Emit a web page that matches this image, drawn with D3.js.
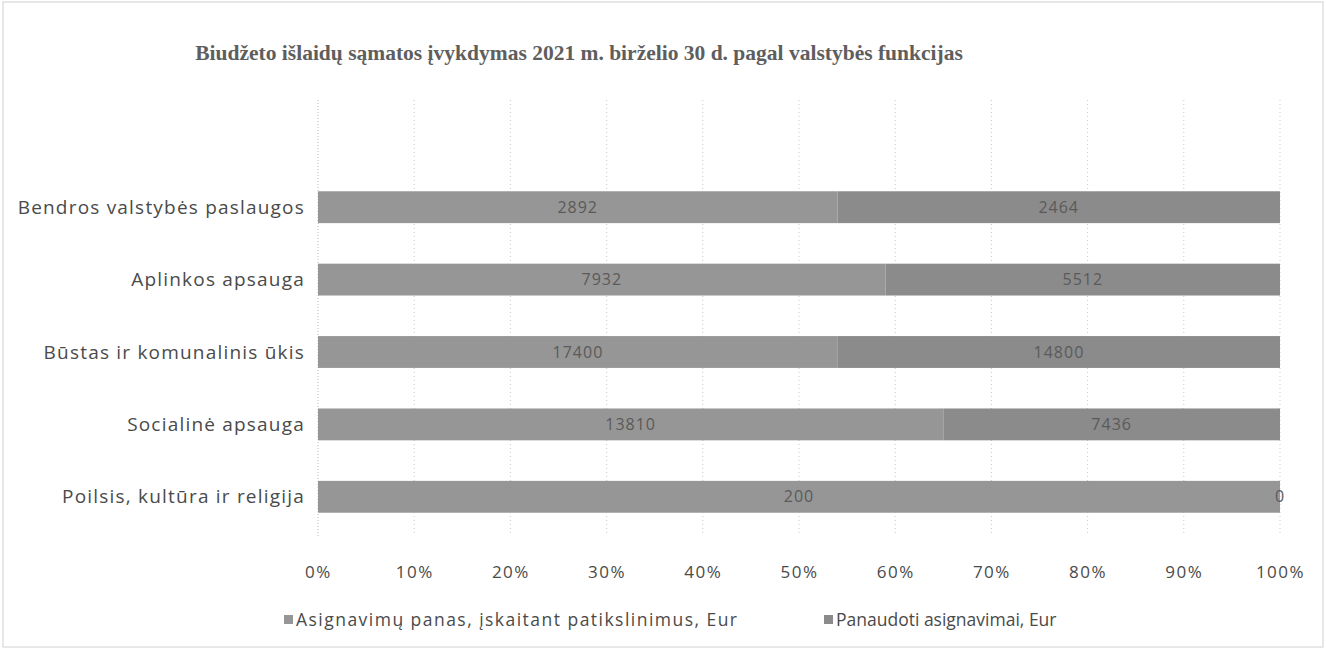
<!DOCTYPE html>
<html>
<head>
  <meta charset="UTF-8">
  <title>Biudžeto išlaidų sąmatos įvykdymas</title>
  <script src="https://d3js.org/d3.v7.min.js"></script>
  <style>
    body { margin: 0; background: #fff; }
    text { font-family: "Open Sans", "DejaVu Sans", sans-serif; fill: #4a4a4a; }
    .title { font-family: "Liberation Serif", "DejaVu Serif", serif; font-weight: bold; fill: #5e5e5e; }
    .grid line { stroke: #c8c8c8; stroke-dasharray: 1,3; }
  </style>
</head>
<body>
<script>
// categories (top to bottom)
var categories = [
  "Bendros valstybės paslaugos",
  "Aplinkos apsauga",
  "Būstas ir komunalinis ūkis",
  "Socialinė apsauga",
  "Poilsis, kultūra ir religija"
];
// series values, Eur
var planValues = [2892, 7932, 17400, 13810, 200];
var usedValues = [2464, 5512, 14800, 7436, 0];
var seriesNames = ["Asignavimų panas, įskaitant patikslinimus, Eur", "Panaudoti asignavimai, Eur"];
var tickLabels = [0, 0.1, 0.2, 0.3, 0.4, 0.5, 0.6, 0.7, 0.8, 0.9, 1];

var width = 1326, height = 651;
var svg = d3.select("body").append("svg")
  .attr("width", width).attr("height", height);

// faint page border from the scan
svg.append("rect").attr("x", 3).attr("y", 2).attr("width", width - 6).attr("height", height - 6)
  .attr("fill", "none").attr("stroke", "#d0d0d0");

svg.append("text").attr("class", "title")
  .attr("x", 579).attr("y", 60).attr("text-anchor", "middle")
  .style("font-size", "21.5px")
  .text("Biudžeto išlaidų sąmatos įvykdymas 2021 m. birželio 30 d. pagal valstybės funkcijas");

var x = d3.scaleLinear().domain([0, 1]).range([318, 1280]);
var y = d3.scaleBand().domain(categories).range([171, 533]).paddingInner(0.56).paddingOuter(0.28);

// gridlines
svg.append("g").attr("class", "grid")
  .selectAll("line").data(tickLabels.slice(1)).enter().append("line")
  .attr("x1", function(d) { return x(d); }).attr("x2", function(d) { return x(d); })
  .attr("y1", 100).attr("y2", 533);

svg.append("line").attr("x1", x(0)).attr("x2", x(0)).attr("y1", 100).attr("y2", 536)
  .attr("stroke", "#bbb").attr("stroke-dasharray", "1,2");

// stacked data (100%)
var rows = categories.map(function(c, i) {
  var total = planValues[i] + usedValues[i];
  return { cat: c, plan: planValues[i], used: usedValues[i], p: planValues[i] / total };
});

var colors = ["#969696", "#8b8b8b"];
var g = svg.append("g");

rows.forEach(function(r) {
  var segs = [
    { x0: 0, x1: r.p, v: r.plan, c: colors[0] },
    { x0: r.p, x1: 1, v: r.used, c: colors[1] }
  ];
  segs.forEach(function(s) {
    g.append("rect")
      .attr("x", x(s.x0)).attr("y", y(r.cat))
      .attr("width", x(s.x1) - x(s.x0)).attr("height", y.bandwidth())
      .attr("fill", s.c);
    g.append("text")
      .attr("x", (x(s.x0) + x(s.x1)) / 2).attr("y", y(r.cat) + y.bandwidth() / 2)
      .attr("dy", "0.35em").attr("text-anchor", "middle")
      .style("font-size", "16px").style("letter-spacing", "1px").style("fill", "#5a5a5a")
      .text(s.v);
  });
});

// category labels
svg.append("g").selectAll("text").data(categories).enter().append("text")
  .attr("x", 305).attr("y", function(d) { return y(d) + y.bandwidth() / 2; })
  .attr("dy", "0.35em").attr("text-anchor", "end")
  .style("font-size", "19px").style("letter-spacing", "1.2px")
  .text(function(d) { return d; });

// x axis tick labels
var xAxis = d3.axisBottom(x).tickValues(tickLabels).tickFormat(d3.format(".0%")).tickSize(0);
var ax = svg.append("g").attr("transform", "translate(0,563)").call(xAxis);
ax.select(".domain").remove();
ax.selectAll("text").style("font-size", "17px").style("letter-spacing", "1.5px").style("fill", "#4a4a4a")
  .style("font-family", "'Open Sans', sans-serif");

// legend
var legendX = [284, 824];
seriesNames.forEach(function(n, i) {
  svg.append("rect").attr("x", legendX[i]).attr("y", 615).attr("width", 9).attr("height", 9)
    .attr("fill", colors[i]);
  var t = svg.append("text").attr("x", legendX[i] + 12).attr("y", 620).attr("dy", "0.35em")
    .style("font-size", "17.5px")
    .text(n);
  if (i === 0) t.attr("textLength", 441).attr("lengthAdjust", "spacing");
});
</script>
</body>
</html>
